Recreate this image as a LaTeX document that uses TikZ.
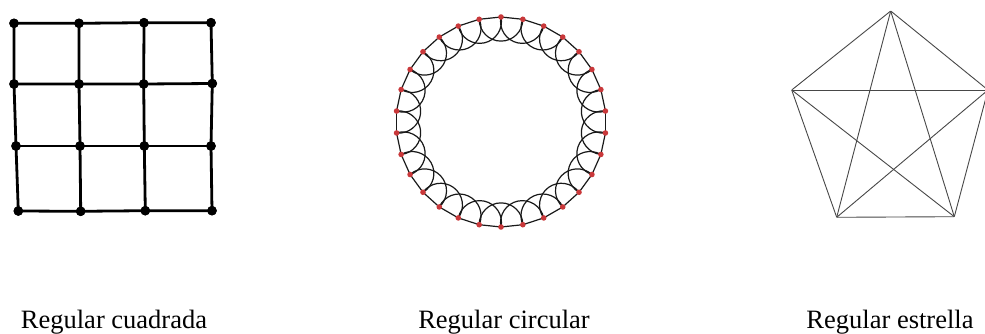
\documentclass[tikz,border=0pt]{standalone}
\usepackage{fontspec}
\setmainfont{Liberation Serif}
\usetikzlibrary{calc}
\definecolor{dotred}{HTML}{C9383A}
\begin{document}
\begin{tikzpicture}[x=1pt,y=-1pt,
  gdot/.style={circle,fill=black,inner sep=0pt,minimum size=9.5pt},
  gedge/.style={line width=2.8pt,black},
  rdot/.style={circle,fill=dotred,inner sep=0pt,minimum size=5.6pt},
  redge/.style={line width=1.2pt,black!90},
  pvert/.style={circle,inner sep=0pt,minimum size=0pt},
  pedge/.style={line width=0.9pt,black!72},
  lab/.style={anchor=base,font=\fontsize{26.5}{30}\selectfont,inner sep=0pt}]
\useasboundingbox (0,0) rectangle (985,334);
\clip (0,0) rectangle (985,334);
% ---------- square grid ----------
\coordinate (p00) at (14,23.3);   \coordinate (p01) at (79,23.3);   \coordinate (p02) at (144,22.7);  \coordinate (p03) at (211,22.7);
\coordinate (p10) at (14,84);     \coordinate (p11) at (79,84);     \coordinate (p12) at (143.7,84);  \coordinate (p13) at (212.3,83.5);
\coordinate (p20) at (16,146);    \coordinate (p21) at (80,146);    \coordinate (p22) at (144.3,146); \coordinate (p23) at (211,146);
\coordinate (p30) at (18.3,211);  \coordinate (p31) at (80.7,211.3);\coordinate (p32) at (145.3,210.7);\coordinate (p33) at (212,210.7);
\foreach \r in {0,1,2,3}{\foreach \c in {0,1,2,3}{
  \node[gdot] (g\r\c) at (p\r\c) {};}}
\foreach \r in {0,1,2,3}{
  \draw[gedge] (g\r0.center) -- (g\r1.center) -- (g\r2.center) -- (g\r3.center);
  \draw[gedge] (g0\r.center) -- (g1\r.center) -- (g2\r.center) -- (g3\r.center);}
\foreach \r in {0,1,2,3}{\foreach \c in {0,1,2,3}{
  \node[gdot] at (p\r\c) {};}}
% ---------- circular ring lattice ----------
\coordinate (cc) at (501,122);
\foreach \i in {0,...,29}{
  \node[rdot,fill=none] (c\i) at ($(cc)+({90+12*\i}:105)$) {};}
\foreach \i in {0,...,29}{
  \pgfmathtruncatemacro{\j}{mod(\i+1,30)}
  \draw[redge] (c\i.center) -- (c\j.center);
  \pgfmathsetmacro{\s}{90+12*\i-78}
  \draw[redge] (c\i.center) arc[start angle=\s, delta angle=-180, radius=21.83];}
\foreach \i in {0,...,29}{
  \node[rdot] at (c\i) {};}
% ---------- pentagon star (K5) ----------
\node[pvert] (t)  at (890.7,11) {};
\node[pvert] (l)  at (791.7,90) {};
\node[pvert] (r)  at (988,90) {};
\node[pvert] (bl) at (836.7,217.3) {};
\node[pvert] (br) at (954.3,216.7) {};
\draw[pedge] (t) -- (l) -- (bl) -- (br) -- (r) -- (t);
\draw[pedge] (t) -- (bl);
\draw[pedge] (t) -- (br);
\draw[pedge] (l) -- (r);
\draw[pedge] (l) -- (br);
\draw[pedge] (bl) -- (r);
% ---------- labels ----------
\node[lab] (lab1) at (114,328) {Regular cuadrada};
\node[lab] (lab2) at (504,328) {Regular circular};
\node[lab] (lab3) at (890,328) {Regular estrella};
\end{tikzpicture}
\end{document}
